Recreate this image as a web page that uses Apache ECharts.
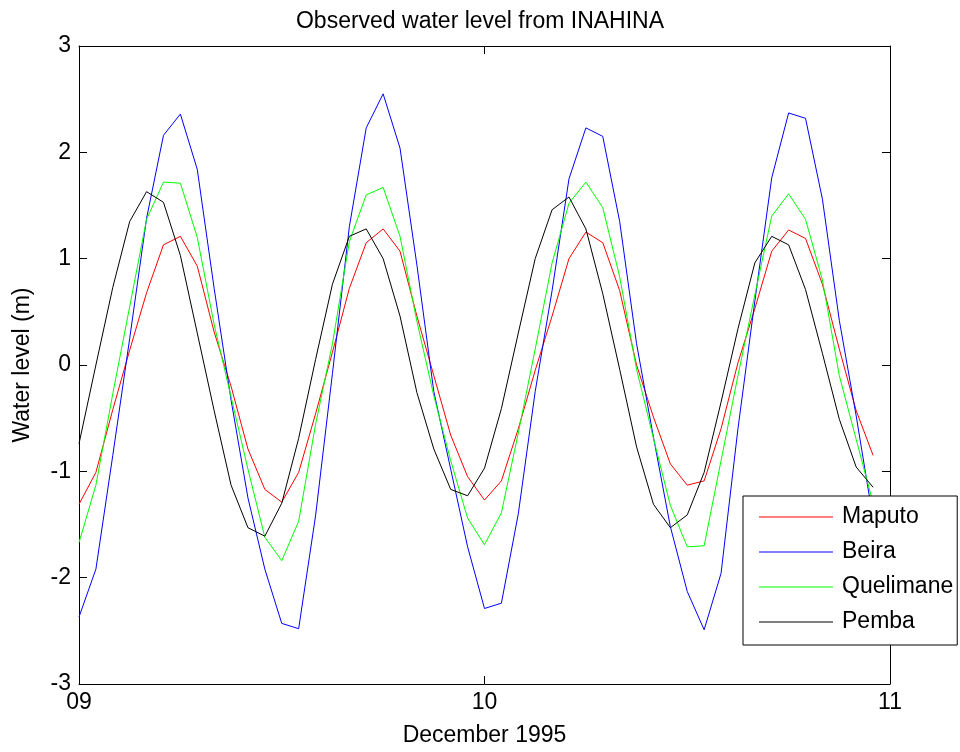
<!DOCTYPE html>
<html>
<head>
<meta charset="utf-8">
<script src="https://cdn.jsdelivr.net/npm/echarts@6/dist/echarts.min.js"></script>
<style>
html,body{margin:0;padding:0;background:#fff;}
#chart{width:960px;height:752px;}
</style>
</head>
<body>
<div id="chart"></div>
<script>
// Hourly observations, 9 Dec 1995 00:00 .. 10 Dec 1995 23:00 (hour index 0..47)
const seriesNames = ['Maputo', 'Beira', 'Quelimane', 'Pemba'];
const seriesColors = ['#ff0000', '#0000ff', '#00ff00', '#000000'];

const maputo = [-1.31,-1.01,-0.42,0.14,0.68,1.13,1.21,0.93,0.31,-0.20,-0.79,-1.17,
  -1.29,-1.01,-0.46,0.12,0.72,1.15,1.28,1.07,0.46,-0.10,-0.66,-1.05,
  -1.27,-1.09,-0.60,-0.05,0.46,1.00,1.25,1.15,0.70,0.00,-0.49,-0.93,
  -1.13,-1.09,-0.60,0.02,0.53,1.07,1.27,1.19,0.76,0.15,-0.43,-0.85];
const beira = [-2.37,-1.92,-0.85,0.25,1.38,2.16,2.36,1.84,0.72,-0.33,-1.25,-1.92,
  -2.43,-2.48,-1.42,-0.08,1.30,2.23,2.55,2.04,0.94,-0.25,-0.98,-1.71,
  -2.29,-2.24,-1.40,-0.25,0.70,1.75,2.23,2.15,1.35,0.20,-0.68,-1.52,
  -2.13,-2.49,-1.96,-0.60,0.60,1.76,2.37,2.32,1.56,0.42,-0.48,-1.45];
const quelimane = [-1.67,-1.13,-0.27,0.55,1.37,1.72,1.71,1.20,0.38,-0.30,-0.98,-1.62,
  -1.84,-1.47,-0.56,0.20,1.16,1.60,1.67,1.21,0.41,-0.29,-0.90,-1.44,
  -1.69,-1.39,-0.64,0.15,0.96,1.52,1.72,1.48,0.83,-0.04,-0.69,-1.32,
  -1.71,-1.70,-0.90,-0.10,0.66,1.40,1.61,1.37,0.80,-0.10,-0.70,-1.30];
const pemba = [-0.74,0.00,0.73,1.35,1.63,1.53,1.03,0.30,-0.43,-1.13,-1.53,-1.61,
  -1.30,-0.69,0.05,0.76,1.21,1.28,1.00,0.46,-0.26,-0.79,-1.17,-1.23,
  -0.97,-0.41,0.30,1.00,1.46,1.58,1.28,0.67,-0.04,-0.77,-1.31,-1.53,
  -1.41,-1.01,-0.35,0.34,0.96,1.21,1.13,0.71,0.11,-0.51,-0.96,-1.15];

const xTickLabels = {0: '09', 24: '10', 48: '11'};

const allValues = [maputo, beira, quelimane, pemba];
const FONT = 'Liberation Sans';
const FS = 23;

const chart = echarts.init(document.getElementById('chart'));

const tickStyle = {show: true, inside: true, length: 8, lineStyle: {color: '#000', width: 1}};
const axisLineStyle = {show: true, onZero: false, lineStyle: {color: '#000', width: 1}};

const option = {
  backgroundColor: '#fff',
  animation: false,
  title: {
    text: 'Observed water level from INAHINA',
    left: 'center', top: 5,
    textStyle: {fontFamily: FONT, fontSize: FS, fontWeight: 'normal', color: '#000'}
  },
  grid: {left: 79, right: 70, top: 46, bottom: 67},
  legend: {
    orient: 'vertical', left: 743, top: 496,
    backgroundColor: '#fff', borderColor: '#000', borderWidth: 1,
    padding: [9, 4, 11, 16],
    itemWidth: 74, itemHeight: 14, itemGap: 11,
    icon: 'path://M0,0L74,0L74,1L0,1Z',
    textStyle: {fontFamily: FONT, fontSize: FS, lineHeight: 24, color: '#000', padding: [0, 0, 0, 4]},
    data: seriesNames
  },
  xAxis: [{
    type: 'value', min: 0, max: 48, interval: 24, position: 'bottom',
    axisLine: axisLineStyle, axisTick: tickStyle, splitLine: {show: false},
    axisLabel: {fontFamily: FONT, fontSize: FS, color: '#000', margin: 7,
      formatter: v => xTickLabels[v] !== undefined ? xTickLabels[v] : ''},
    name: 'December 1995', nameLocation: 'middle', nameGap: 40,
    nameTextStyle: {fontFamily: FONT, fontSize: FS, color: '#000'}
  }, {
    type: 'value', min: 0, max: 48, interval: 24, position: 'top',
    axisLine: axisLineStyle, axisTick: tickStyle, splitLine: {show: false},
    axisLabel: {show: false}
  }],
  yAxis: [{
    type: 'value', min: -3, max: 3, interval: 1, position: 'left',
    axisLine: axisLineStyle, axisTick: tickStyle, splitLine: {show: false},
    axisLabel: {fontFamily: FONT, fontSize: FS, color: '#000', margin: 8},
    name: 'Water level (m)', nameLocation: 'middle', nameGap: 45, nameRotate: 90,
    nameTextStyle: {fontFamily: FONT, fontSize: FS, color: '#000'}
  }, {
    type: 'value', min: -3, max: 3, interval: 1, position: 'right',
    axisLine: axisLineStyle, axisTick: tickStyle, splitLine: {show: false},
    axisLabel: {show: false}
  }],
  series: seriesNames.map((name, k) => ({
    name: name, type: 'line', symbol: 'none', xAxisIndex: 0, yAxisIndex: 0,
    color: seriesColors[k],
    lineStyle: {color: seriesColors[k], width: 1},
    data: allValues[k].map((v, h) => [h, v])
  }))
};
chart.setOption(option);
</script>
</body>
</html>
